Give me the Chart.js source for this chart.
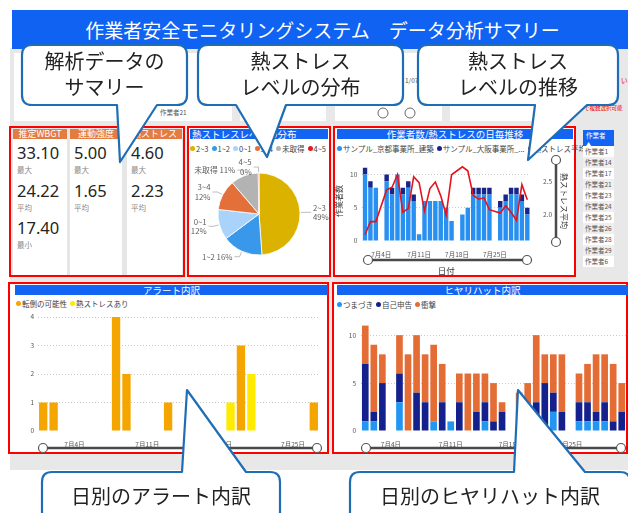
<!DOCTYPE html>
<html lang="ja">
<head>
<meta charset="utf-8">
<title>作業者安全モニタリングシステム</title>
<script src="https://cdn.jsdelivr.net/npm/chart.js@4.4.1/dist/chart.umd.min.js"></script>
<style>
*{margin:0;padding:0;box-sizing:border-box}
html,body{width:628px;height:513px;overflow:hidden;background:#fff}
body{position:relative;font-family:"Noto Sans CJK JP","Noto Sans",sans-serif;color:#333}
.a{position:absolute}
.panel{position:absolute;border:2px solid #ff0000;background:#fff}
.tbar{position:absolute;background:#1464f4;color:#fff;font-size:9.5px;line-height:10px;height:10px;white-space:nowrap;overflow:hidden}
.lg{position:absolute;display:flex;align-items:center;font-size:7.5px;line-height:9px;color:#444;white-space:nowrap}
.lg .it{display:flex;align-items:center;margin-right:3px}
.lg .dot{width:5px;height:5px;border-radius:50%;margin-right:1px;flex:none}
canvas{position:absolute}
#ov{position:absolute;left:0;top:0;z-index:10;pointer-events:none}
.kcol{position:absolute;background:#fff}
.khead{position:absolute;left:0;top:0;width:100%;height:9.5px;background:#e47b40;color:#fff;font-size:9px;line-height:9.5px;text-align:center;white-space:nowrap;overflow:hidden}
.kval{position:absolute;left:4px;font-family:"Noto Sans",sans-serif;font-size:16.5px;line-height:20px;color:#252423}
.klab{position:absolute;left:4px;font-size:7.5px;line-height:10px;color:#8a8886}
.trow{position:absolute;left:583px;width:31px;height:11px;font-size:6.5px;line-height:11px;color:#555;padding-left:2px;white-space:nowrap}
.small{position:absolute;font-size:6.5px;line-height:8px;color:#555;white-space:nowrap}
</style>
</head>
<body>
<!-- dashboard background -->
<div class="a" style="left:10px;top:48px;width:618px;height:422px;background:#e8e8e8"></div>
<div class="a" style="left:12px;top:10px;width:616px;height:39px;background:#1062f2;color:#fff;font-size:19px;line-height:39px;text-align:center;padding-left:5px;white-space:nowrap">作業者安全モニタリングシステム　データ分析サマリー</div>

<!-- slicer area -->
<div class="a" style="left:14px;top:53px;width:218px;height:68px;background:#fff"></div>
<div class="a" style="left:240px;top:53px;width:86px;height:68px;background:#fff"></div>
<div class="a" style="left:335px;top:53px;width:107px;height:68px;background:#fff"></div>
<div class="a" style="left:450px;top:53px;width:103px;height:68px;background:#fff"></div>
<div class="small" style="left:160px;top:96px">作業者17</div>
<div class="small" style="left:160px;top:108px">作業者21</div>
<div class="small" style="left:405px;top:76px">1/07</div>
<div class="small" style="left:584px;top:104px;color:#e00;font-size:5.5px">で複数選択可能</div>
<div class="small" style="left:621px;top:76px;color:#e00">い</div>

<!-- KPI panel -->
<div class="panel" style="left:9px;top:126px;width:176px;height:151px;background:#e6e6e6"></div>
<div id="kpi"></div>

<!-- Pie panel -->
<div class="panel" style="left:187px;top:126px;width:144px;height:151px"></div>
<div class="tbar" style="left:190px;top:129px;width:138px;padding-left:2px">熱ストレスレベルの分布</div>
<div class="lg" id="pieLg" style="left:190px;top:144px"></div>
<canvas id="pie" width="142" height="136" style="left:188px;top:140px;width:142px;height:136px"></canvas>

<!-- Combo panel -->
<div class="panel" style="left:333px;top:126px;width:243px;height:151px"></div>
<div class="tbar" style="left:337px;top:129px;width:236px;text-align:center">作業者数/熱ストレスの日毎推移</div>
<div class="lg" id="comboLg" style="left:337px;top:144px"></div>
<canvas id="combo" width="240" height="126" style="left:334px;top:150px;width:240px;height:126px"></canvas>

<!-- worker table -->
<div class="a" style="left:583px;top:130px;width:31px;height:16px;background:#1464f4;color:#fff;font-size:6.5px;line-height:8px;padding:1px 0 0 3px">作業者<br><span style="font-size:5px">▲</span></div>
<div id="tbl"></div>

<!-- Alert panel -->
<div class="panel" style="left:8px;top:282px;width:321px;height:172px"></div>
<div class="tbar" style="left:15px;top:285px;width:313px;text-align:center">アラート内訳</div>
<div class="lg" id="alertLg" style="left:16px;top:299px"></div>
<canvas id="alert" width="318" height="140" style="left:10px;top:307px;width:318px;height:140px"></canvas>

<!-- Hiyari panel -->
<div class="panel" style="left:332px;top:282px;width:296px;height:172px"></div>
<div class="tbar" style="left:337px;top:285px;width:291px;text-align:center">ヒヤリハット内訳</div>
<div class="lg" id="hiyariLg" style="left:337px;top:300px"></div>
<canvas id="hiyari" width="294" height="140" style="left:334px;top:307px;width:294px;height:140px"></canvas>

<svg id="ov" width="628" height="513" viewBox="0 0 628 513"></svg>

<script>
// ================= DATA =================
const dateLabels = ['7月1日','7月2日','7月3日','7月4日','7月5日','7月6日','7月7日','7月8日','7月9日','7月10日',
  '7月11日','7月12日','7月13日','7月14日','7月15日','7月16日','7月17日','7月18日','7月19日','7月20日',
  '7月21日','7月22日','7月23日','7月24日','7月25日','7月26日','7月27日','7月28日','7月29日','7月30日','7月31日'];
const xTickDates = ['7月4日','7月11日','7月18日','7月25日'];

// KPI
const kpiTitles = ['推定WBGT','運動強度','熱ストレス'];
const kpiMax = ['33.10','5.00','4.60'];
const kpiAvg = ['24.22','1.65','2.23'];
const kpiMin = ['17.40',null,null];
const kpiStatNames = ['最大','平均','最小'];

// Pie: heat stress level distribution (%)
const pieLabels = ['2~3','1~2','0~1','3~4','未取得','4~5'];
const pieValues = [49,16,12,12,11,0.3];
const pieColors = ['#dcb200','#3a98ea','#a9d3fa','#e3703a','#b3b3b3','#e81818'];

// Combo: workers per day (stacked) and heat-stress average
const comboSeriesNames = ['サンプル_京都事業所_建築','サンプル_大阪事業所_...','熱ストレス平均'];
const kyotoWorkers = [10,8,8,null,9,7,10,7,8,6,1,6,6,6,6,5,3,null,4,5,7,7,7,7,null,5,6,7,7,6,4];
const osakaWorkers = [1,1,0,null,1,1,0,1,1,1,0,0,0,0,0,0,0,null,0,0,1,1,1,1,null,1,1,1,1,1,1];
const heatAvg = [1.70,1.90,1.90,null,2.38,2.42,2.61,2.04,2.10,2.58,2.49,2.06,2.40,2.50,2.29,2.00,2.61,null,2.73,2.67,2.30,2.24,2.26,2.08,null,2.03,2.14,2.04,1.92,2.46,2.23];
const leftTicks = [0,5,10];
const rightTicks = [2.0,2.5];

// Worker table
const workers = ['作業者1','作業者14','作業者17','作業者21','作業者23','作業者24','作業者25','作業者26','作業者28','作業者29','作業者6'];

// Alerts (7/1 - 7/27)
const alertSeriesNames = ['転倒の可能性','熱ストレスあり'];
const alertFall = [1,1,0,0,0,0,0,4,2,0,0,0,1,0,0,0,0,0,0,3,0,0,0,0,0,0,1];
const alertHeat = [0,0,0,0,0,0,0,0,0,0,0,0,0,0,0,0,0,0,1,0,2,0,0,0,0,0,0];
const alertTicks = [0,1,2,3,4];

// Near-miss (ヒヤリハット)
const hiyariSeriesNames = ['つまづき','自己申告','衝撃'];
const hiyariTrip   = [1,1,0,null,3,0,0,0,1,0,1,0,0,0,1,0,0,null,0,0,0,0,2,0,null,1,1,1,1,0,0];
const hiyariSelf   = [6,1,5,null,3,0,4,3,0,3,0,3,0,2,2,1,2,null,0,0,3,5,2,2,null,2,2,1,2,1,2];
const hiyariImpact = [4,7,3,null,4,8,6,5,8,4,0,3,6,4,3,4,1,null,4,5,7,3,4,6,null,3,4,6,5,6,3];
const hiyariTicks = [0,5,10];

// ================= STYLE / BUILD =================
const C = {
  kyoto:'#2890f0', osaka:'#172489', heat:'#e3141b',
  fall:'#f5a500', heatAlert:'#ffea00',
  trip:'#2196f3', self:'#14218c', impact:'#e46d36'
};
const TICK_FONT = {size:6.5};
const TICK_COLOR = '#555';
Chart.defaults.font.family = '"Noto Sans CJK JP","Noto Sans",sans-serif';
Chart.defaults.color = '#555';

// KPI build
(function(){
  const root = document.getElementById('kpi');
  const colX=[13,70,127], colW=[54,52,55];
  const valY=[153,191,228];
  kpiTitles.forEach((t,i)=>{
    const col=document.createElement('div');
    col.className='kcol';
    col.style.cssText=`left:${colX[i]}px;top:129px;width:${colW[i]}px;height:146px`;
    col.innerHTML=`<div class="khead">${t}</div>`;
    [kpiMax[i],kpiAvg[i],kpiMin[i]].forEach((v,j)=>{
      if(v===null) return;
      const cy=valY[j]-129;
      col.innerHTML+=`<div class="kval" style="top:${cy-10}px">${v}</div><div class="klab" style="top:${cy+12}px">${kpiStatNames[j]}</div>`;
    });
    root.appendChild(col);
  });
})();

// table
(function(){
  const root=document.getElementById('tbl');
  workers.forEach((w,i)=>{
    const d=document.createElement('div');
    d.className='trow';
    d.style.top=(146+i*11)+'px';
    d.style.background = i%2 ? '#efefef' : '#fff';
    d.textContent=w;
    root.appendChild(d);
  });
})();

function legend(id, labels, colors){
  const el=document.getElementById(id);
  labels.forEach((l,i)=>{
    const it=document.createElement('span'); it.className='it';
    const dot=document.createElement('span'); dot.className='dot'; dot.style.background=colors[i];
    it.appendChild(dot); it.appendChild(document.createTextNode(l));
    el.appendChild(it);
  });
}
legend('pieLg', pieLabels, pieColors);
legend('comboLg', comboSeriesNames, [C.kyoto,C.osaka,C.heat]);
legend('alertLg', alertSeriesNames, [C.fall,C.heatAlert]);
legend('hiyariLg', hiyariSeriesNames, [C.trip,C.self,C.impact]);

const noGrid0 = ctx => (ctx.tick && ctx.tick.value===0) ? 'rgba(0,0,0,0)' : '#c9c9c9';
function xTickCb(v){ const l=this.getLabelForValue(v); return xTickDates.includes(l)?l:''; }

// Pie with outside labels
const pieLabelPlugin = {
  id:'pieLabels',
  afterDatasetsDraw(chart){
    const ctx=chart.ctx, meta=chart.getDatasetMeta(0), ds=chart.data.datasets[0];
    const total=ds.data.reduce((a,b)=>a+b,0);
    const singleLine=chart.options.plugins.pieLabels.singleLine;
    ctx.save();
    ctx.font='7.8px "Noto Sans CJK JP","Noto Sans",sans-serif';
    ctx.fillStyle='#605e5c'; ctx.strokeStyle='#a0a0a0'; ctx.lineWidth=0.7;
    meta.data.forEach((arc,i)=>{
      const mid=(arc.startAngle+arc.endAngle)/2, r=arc.outerRadius;
      const cs=Math.cos(mid), sn=Math.sin(mid);
      const p0={x:arc.x+cs*(r+1),y:arc.y+sn*(r+1)};
      const p1={x:arc.x+cs*(r+6),y:arc.y+sn*(r+6)};
      const right=cs>=0;
      const p2={x:p1.x+(right?5:-5),y:p1.y};
      ctx.beginPath(); ctx.moveTo(p0.x,p0.y); ctx.lineTo(p1.x,p1.y); ctx.lineTo(p2.x,p2.y); ctx.stroke();
      const pct=Math.round(ds.data[i]/total*100)+'%';
      const lab=chart.data.labels[i];
      const lines=singleLine.includes(lab)?[lab+' '+pct]:[lab,pct];
      ctx.textAlign=right?'left':'right'; ctx.textBaseline='middle';
      const tx=p2.x+(right?2:-2);
      lines.forEach((t,k)=>ctx.fillText(t,tx,p2.y+(k-(lines.length-1)/2)*9.5));
    });
    ctx.restore();
  }
};
new Chart(document.getElementById('pie'),{
  type:'pie',
  data:{labels:pieLabels,datasets:[{data:pieValues,backgroundColor:pieColors,borderColor:'#fff',borderWidth:0.8,hoverOffset:0}]},
  options:{responsive:false,animation:false,radius:41,
    layout:{padding:{left:30,right:30,top:33,bottom:21}},
    plugins:{legend:{display:false},tooltip:{enabled:false},pieLabels:{singleLine:['1~2','未取得']}}},
  plugins:[pieLabelPlugin]
});

// Combo
new Chart(document.getElementById('combo'),{
  type:'bar',
  data:{labels:dateLabels,datasets:[
    {type:'line',label:comboSeriesNames[2],data:heatAvg,yAxisID:'y1',borderColor:C.heat,borderWidth:1.6,pointRadius:0,tension:0,spanGaps:true,order:0},
    {label:comboSeriesNames[0],data:kyotoWorkers,backgroundColor:C.kyoto,stack:'w',barPercentage:0.82,categoryPercentage:1,order:1},
    {label:comboSeriesNames[1],data:osakaWorkers,backgroundColor:C.osaka,stack:'w',barPercentage:0.82,categoryPercentage:1,order:1}
  ]},
  options:{responsive:false,animation:false,
    layout:{padding:{left:0,right:0,top:11.2,bottom:0}},
    plugins:{legend:{display:false},tooltip:{enabled:false}},
    scales:{
      x:{stacked:true,grid:{display:false},border:{display:false},
         ticks:{autoSkip:false,maxRotation:0,minRotation:0,font:TICK_FONT,color:TICK_COLOR,padding:2,callback:xTickCb},
         title:{display:true,text:'日付',font:{size:8.5},color:'#333',padding:{top:0,bottom:0.6}},
         afterFit(s){s.height=35;}},
      y:{stacked:true,min:0,max:12,afterBuildTicks(s){s.ticks=leftTicks.map(v=>({value:v}));},
         grid:{color:noGrid0,drawTicks:false},border:{display:false,dash:[1,2]},
         ticks:{font:TICK_FONT,color:TICK_COLOR,padding:5},
         title:{display:true,text:'作業者数',font:{size:8},color:'#333',padding:{top:0.6,bottom:0}},
         afterFit(s){s.width=28.3;}},
      y1:{position:'right',min:1.606,max:2.815,afterBuildTicks(s){s.ticks=rightTicks.map(v=>({value:v}));},
         grid:{display:false},border:{display:false},
         ticks:{font:TICK_FONT,color:TICK_COLOR,padding:5,callback:v=>Number(v).toFixed(1)},
         title:{display:true,text:'熱ストレス平均',font:{size:8},color:'#333',padding:{top:5.6,bottom:0}},
         afterFit(s){s.width=44;}}
    }}
});

// Alerts
new Chart(document.getElementById('alert'),{
  type:'bar',
  data:{labels:dateLabels.slice(0,alertFall.length),datasets:[
    {label:alertSeriesNames[0],data:alertFall,backgroundColor:C.fall,barPercentage:0.8,categoryPercentage:1},
    {label:alertSeriesNames[1],data:alertHeat,backgroundColor:C.heatAlert,barPercentage:0.8,categoryPercentage:1}
  ]},
  options:{responsive:false,animation:false,
    layout:{padding:{left:0,right:9,top:10,bottom:0}},
    plugins:{legend:{display:false},tooltip:{enabled:false}},
    scales:{
      x:{stacked:true,grid:{display:false},border:{display:false},
         ticks:{autoSkip:false,maxRotation:0,minRotation:0,font:TICK_FONT,color:TICK_COLOR,padding:2,callback:xTickCb},
         afterFit(s){s.height=16;}},
      y:{stacked:true,min:0,max:4,afterBuildTicks(s){s.ticks=alertTicks.map(v=>({value:v}));},
         grid:{color:noGrid0,drawTicks:false},border:{display:false,dash:[1,2]},
         ticks:{font:TICK_FONT,color:TICK_COLOR,padding:4},
         afterFit(s){s.width=28;}}
    }}
});

// Hiyari
new Chart(document.getElementById('hiyari'),{
  type:'bar',
  data:{labels:dateLabels,datasets:[
    {label:hiyariSeriesNames[0],data:hiyariTrip,backgroundColor:C.trip,barPercentage:0.78,categoryPercentage:1},
    {label:hiyariSeriesNames[1],data:hiyariSelf,backgroundColor:C.self,barPercentage:0.78,categoryPercentage:1},
    {label:hiyariSeriesNames[2],data:hiyariImpact,backgroundColor:C.impact,barPercentage:0.78,categoryPercentage:1}
  ]},
  options:{responsive:false,animation:false,
    layout:{padding:{left:0,right:2,top:9,bottom:0}},
    plugins:{legend:{display:false},tooltip:{enabled:false}},
    scales:{
      x:{stacked:true,grid:{display:false},border:{display:false},
         ticks:{autoSkip:false,maxRotation:0,minRotation:0,font:TICK_FONT,color:TICK_COLOR,padding:2,callback:xTickCb},
         afterFit(s){s.height=16;}},
      y:{stacked:true,min:0,max:12,afterBuildTicks(s){s.ticks=hiyariTicks.map(v=>({value:v}));},
         grid:{color:noGrid0,drawTicks:false},border:{display:false,dash:[1,2]},
         ticks:{font:TICK_FONT,color:TICK_COLOR,padding:5},
         afterFit(s){s.width=27;}}
    }}
});

// ================= OVERLAY: sliders + callouts =================
const NS='http://www.w3.org/2000/svg', ov=document.getElementById('ov');
function add(tag,attrs,text){const e=document.createElementNS(NS,tag);for(const k in attrs)e.setAttribute(k,attrs[k]);if(text)e.textContent=text;ov.appendChild(e);return e;}
function slider(x1,y1,x2,y2){
  add('line',{x1,y1,x2,y2,stroke:'#4a4a4a','stroke-width':2.5});
  [[x1,y1],[x2,y2]].forEach(([cx,cy])=>add('circle',{cx,cy,r:4.5,fill:'#fff',stroke:'#555','stroke-width':1.2}));
}
slider(368,260,527,260);
slider(556,160,556,242);
slider(43,448,317,448);
slider(366,448,621,448);
add('circle',{cx:383,cy:113,r:5,fill:'#fff',stroke:'#666','stroke-width':1});
add('circle',{cx:410,cy:113,r:5,fill:'#fff',stroke:'#666','stroke-width':1});

function calloutPath(c){
  const {x,y,w,h}=c, r=10;
  let p=`M${x+r},${y}`;
  if(c.side==='top') p+=` L${c.b1},${y} L${c.tx},${c.ty} L${c.b2},${y}`;
  p+=` L${x+w-r},${y} Q${x+w},${y} ${x+w},${y+r} L${x+w},${y+h-r} Q${x+w},${y+h} ${x+w-r},${y+h}`;
  if(c.side==='bottom') p+=` L${c.b2},${y+h} L${c.tx},${c.ty} L${c.b1},${y+h}`;
  p+=` L${x+r},${y+h} Q${x},${y+h} ${x},${y+h-r} L${x},${y+r} Q${x},${y} ${x+r},${y} Z`;
  return p;
}
const callouts=[
  {x:22,y:45,w:165,h:60,side:'bottom',b1:117,b2:157,tx:120,ty:162,lines:['解析データの','サマリー'],ty0:69},
  {x:198,y:45,w:205,h:60,side:'bottom',b1:236,b2:286,tx:267,ty:157,lines:['熱ストレス','レベルの分布'],ty0:69},
  {x:418,y:45,w:200,h:60,side:'bottom',b1:535,b2:587,tx:528,ty:160,lines:['熱ストレス','レベルの推移'],ty0:69},
  {x:42,y:472,w:238,h:60,side:'top',b1:182,b2:246,tx:187,ty:390,lines:['日別のアラート内訳'],ty0:504},
  {x:350,y:472,w:280,h:60,side:'top',b1:514,b2:585,tx:518,ty:390,lines:['日別のヒヤリハット内訳'],ty0:504}
];
callouts.forEach(c=>{
  add('path',{d:calloutPath(c),fill:'#fff',stroke:'#1f6eb5','stroke-width':2.2,'stroke-linejoin':'round'});
  c.lines.forEach((t,i)=>add('text',{x:c.x+c.w/2,y:c.ty0+i*26,'text-anchor':'middle','font-size':20,fill:'#222','font-family':'Noto Sans CJK JP, sans-serif'},t));
});
</script>
</body>
</html>
